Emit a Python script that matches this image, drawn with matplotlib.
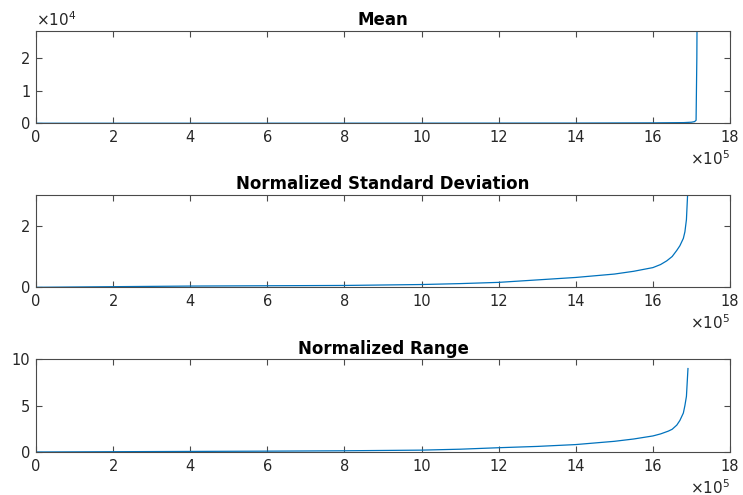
import numpy as np
import matplotlib
matplotlib.use("Agg")
import matplotlib.pyplot as plt
from matplotlib.ticker import FuncFormatter

plt.rcParams['font.family'] = ['DejaVu Sans']

# sorted values (x = sample index)
mean_x = [0, 2e5, 6e5, 10e5, 14e5, 16e5, 16.8e5, 17.0e5, 17.08e5, 17.12e5, 17.14e5, 17.15e5]
mean_y = [0, 5, 15, 30, 60, 120, 200, 320, 500, 900, 20000, 40000]

std_x = [0, 2e5, 4e5, 6e5, 8e5, 10e5, 11e5, 12e5, 13e5, 14e5, 15e5, 15.5e5, 16e5, 16.2e5,
         16.36e5, 16.5e5, 16.62e5, 16.7e5, 16.79e5, 16.83e5, 16.87e5, 16.9e5, 16.92e5]
std_y = [0, 0.02, 0.04, 0.05, 0.06, 0.09, 0.12, 0.16, 0.24, 0.32, 0.43, 0.52, 0.64, 0.74,
         0.86, 1.0, 1.2, 1.35, 1.59, 1.8, 2.2, 3.0, 3.4]

rng_x = [0, 2e5, 4e5, 6e5, 8e5, 10e5, 11e5, 12e5, 13e5, 14e5, 15e5, 15.5e5, 16e5, 16.2e5,
         16.4e5, 16.5e5, 16.62e5, 16.7e5, 16.79e5, 16.83e5, 16.87e5, 16.89e5, 16.91e5]
rng_y = [0, 0.03, 0.06, 0.09, 0.13, 0.2, 0.3, 0.46, 0.6, 0.8, 1.15, 1.4, 1.73, 1.95,
         2.25, 2.45, 2.9, 3.4, 4.2, 5.0, 6.0, 7.5, 9.0]

titles = ["Mean", "Normalized Standard Deviation", "Normalized Range"]
line_color = '#0072BD'
axis_color = '#4a4a4a'
text_color = '#262626'

fig = plt.figure(figsize=(7.43, 4.95), dpi=100)
boxes = [[0.0485, 0.751, 0.934, 0.1865],
         [0.0485, 0.4196, 0.934, 0.1865],
         [0.0485, 0.0869, 0.934, 0.1873]]

data = [(mean_x, mean_y, 28300, [0, 10000, 20000]),
        (std_x, std_y, 3, [0, 2]),
        (rng_x, rng_y, 10, [0, 5, 10])]

for i in range(3):
    ax = fig.add_axes(boxes[i])
    x, y, ytop, yt = data[i]
    ax.plot(x, y, color=line_color, lw=0.9)
    ax.set_xlim(0, 18e5)
    ax.set_ylim(0, ytop)
    ax.set_xticks(np.arange(0, 19e5, 2e5))
    ax.xaxis.set_major_formatter(FuncFormatter(lambda v, p: "%d" % round(v / 1e5)))
    ax.set_yticks(yt)
    if i == 0:
        ax.yaxis.set_major_formatter(FuncFormatter(lambda v, p: "%d" % round(v / 1e4)))
        ax.text(0, 1.025, r'$\times10^{4}$', transform=ax.transAxes, fontsize=11,
                color=text_color, ha='left', va='bottom')
    ax.tick_params(direction='in', length=4, width=0.8, colors=axis_color,
                   labelcolor=text_color, labelsize=10.5, top=True, right=True)
    ax.tick_params(axis='x', pad=5)
    ax.tick_params(axis='y', pad=4)
    for s in ax.spines.values():
        s.set_color(axis_color)
        s.set_linewidth(0.8)
    ax.set_title(titles[i], fontsize=12, fontweight='bold', pad=4, color='#000000')
    ax.text(1.0, -0.28, r'$\times10^{5}$', transform=ax.transAxes, fontsize=11,
            color=text_color, ha='right', va='top')

fig.savefig("out.png", dpi=100)
